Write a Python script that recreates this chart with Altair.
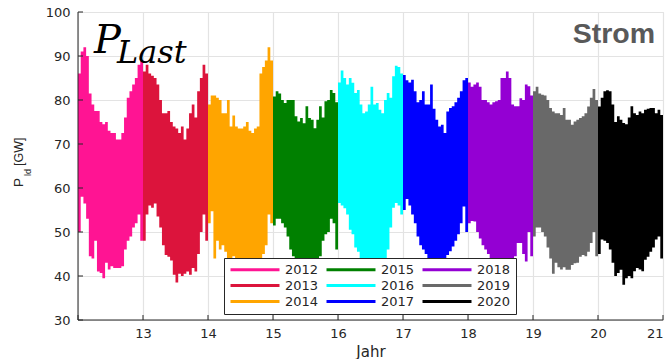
import altair as alt
import pandas as pd

# Yearly electrical load (GW), upper and lower envelope in 24 half-month bins per year
years = ["2012", "2013", "2014", "2015", "2016", "2017", "2018", "2019", "2020"]
year_colors = ["#FF1493", "#DC143C", "#FFA500", "#008000", "#00FFFF",
               "#0000FF", "#9400D3", "#696969", "#000000"]

hi_2012 = [86, 91, 92, 90, 81.5, 79, 77.5, 77.5, 75, 74.5, 75, 73,
           72.5, 72.5, 71, 71, 72.5, 76, 80.5, 82, 83.5, 85, 88, 89]
lo_2012 = [50, 58, 56.5, 53, 44.5, 44, 48, 41, 40.7, 39.5, 43, 41.5,
           42.2, 41.8, 41.8, 41.8, 42.2, 46, 48, 49, 51, 52, 54, 48]

hi_2013 = [86.5, 88, 86, 85.5, 85, 83.5, 80, 77, 77, 77.5, 75, 74,
           73.5, 72.5, 74, 71, 73.5, 77, 79, 76, 82, 85, 88, 86]
lo_2013 = [48, 54, 56, 55.5, 56.5, 53.5, 51, 47, 44.8, 44.4, 43.5, 40.3,
           38.5, 40.5, 40, 40.5, 41, 40.3, 41.8, 41, 45, 50, 54, 48]

hi_2014 = [79, 81, 81, 80.5, 80, 77, 77, 80, 74, 76.5, 74, 73.5,
           73.5, 74, 75, 73, 72.5, 73.5, 74, 86, 87.5, 89, 92, 89]
lo_2014 = [52, 54.7, 44, 48, 46, 47, 45.5, 44, 43, 44.5, 43, 42.5,
           42, 42, 42, 42.5, 43, 43, 43.5, 44, 45, 47, 54, 52]

hi_2015 = [80.8, 82, 81.5, 80, 79.3, 80, 80, 80, 76.3, 75.1, 75.9, 74.7,
           78.6, 75.9, 75.5, 73.6, 75.5, 78.6, 76, 79.7, 80, 82.3, 81.6, 79.5]
lo_2015 = [51.5, 53, 53, 52, 51, 49, 46, 44.5, 43, 42.5, 42, 42,
           42, 42, 42, 42.5, 43, 44.5, 48, 49.5, 50, 53, 52, 46]

hi_2016 = [84, 86.7, 85, 83.5, 85, 83.9, 81.6, 82.3, 79, 77, 77.4, 79,
           83, 79, 79.3, 77.8, 77, 80, 81.6, 80.5, 85.4, 87.8, 87.5, 86]
lo_2016 = [56.6, 56, 55.4, 54, 50.5, 49.5, 46.5, 45.5, 44, 43, 42.5, 42,
           42, 42, 42, 42.5, 43, 44, 46, 51, 55.5, 56.6, 56, 54]

hi_2017 = [85.7, 84.5, 84, 84.6, 82, 79.5, 80, 82, 79, 79, 83.5, 78,
           75.5, 74, 74.4, 72.5, 77.4, 78.2, 78.6, 79.5, 80.5, 82, 84.5, 85]
lo_2017 = [55, 57.5, 56, 54, 52, 49, 47, 46, 45, 43.5, 43, 42.5,
           42.5, 42.5, 43, 44, 44.8, 45.6, 46.7, 48, 49.5, 52, 55.8, 50]

hi_2018 = [84, 83, 83.5, 84, 83, 80, 80, 79.5, 79, 79.5, 79.7, 80,
           85, 85, 86.5, 85, 79, 78.6, 78.6, 80.4, 80, 83.5, 83.1, 81]
lo_2018 = [52, 52.5, 52.4, 50, 48.5, 47, 46, 45, 44, 43.5, 43, 43,
           43, 43.5, 43.7, 43.5, 44, 44.5, 47.5, 47.5, 45, 43.3, 50, 44.5]

hi_2019 = [82, 83, 81.5, 81.2, 81, 80, 78.2, 77.4, 77, 77, 76.6, 78.2,
           75.5, 75.5, 74.4, 75.1, 75.5, 75.9, 76.3, 77, 78.5, 80.5, 82.5, 80]
lo_2019 = [49, 51, 51, 50, 49, 46.5, 44, 40.5, 43, 42, 41.5, 42,
           41.4, 41.4, 42.5, 42.9, 43, 44.4, 44.8, 44.5, 45.5, 47.5, 50, 44.5]

hi_2020 = [78.5, 80.5, 82, 82.2, 82, 79, 75, 76.3, 75.5, 74.8, 74.5, 76,
           78.6, 77, 76.6, 77.4, 77, 77.8, 78, 78.2, 78.2, 77, 77.8, 76.6]
lo_2020 = [45, 48.3, 48, 47.5, 46, 43, 40, 40.7, 41.4, 38, 39.5, 40,
           39.5, 41.1, 41.8, 41.5, 41.1, 43.7, 44.4, 45.5, 46.5, 48.3, 49, 44]

highs = [hi_2012, hi_2013, hi_2014, hi_2015, hi_2016, hi_2017, hi_2018, hi_2019, hi_2020]
lows = [lo_2012, lo_2013, lo_2014, lo_2015, lo_2016, lo_2017, lo_2018, lo_2019, lo_2020]

x_ticks = [12, 13, 14, 15, 16, 17, 18, 19, 20, 21]
y_ticks = [30, 40, 50, 60, 70, 80, 90, 100]

rows = []
for i, (yr, hi, lo) in enumerate(zip(years, highs, lows)):
    n = len(hi)
    start = 12 + i
    for k in range(n):
        rows.append({"t": start + k / n, "hi": hi[k], "lo": lo[k], "Jahrgang": yr})
    rows.append({"t": start + 1, "hi": hi[-1], "lo": lo[-1], "Jahrgang": yr})
df = pd.DataFrame(rows)

# one point per year: feeds the line-style legend, draws no visible line
key_df = pd.DataFrame({"t": [12 + i + 0.5 for i in range(len(years))],
                       "hi": [60.0] * len(years), "Jahrgang": years})

W, H = 585, 308
TXT = "#262626"
GRID = "#e3e3e3"

x_scale = alt.Scale(domain=[12, 21], nice=False, zero=False)
y_scale = alt.Scale(domain=[30, 100], nice=False, zero=False)
c_scale = alt.Scale(domain=years, range=year_colors)

area = alt.Chart(df).mark_area(interpolate="step-after", opacity=1).encode(
    x=alt.X("t:Q", scale=x_scale,
            axis=alt.Axis(values=x_ticks, format="d", title="Jahr", grid=True,
                          gridColor=GRID, gridWidth=1.2, domain=False, ticks=False,
                          labelExpr="datum.value == 12 ? '' : datum.label",
                          labelFont="DejaVu Sans", labelFontSize=13, labelColor=TXT,
                          labelPadding=7, titleFont="DejaVu Sans", titleFontSize=15,
                          titleFontWeight="normal", titleColor=TXT, titlePadding=4)),
    y=alt.Y("hi:Q", scale=y_scale,
            axis=alt.Axis(values=y_ticks, title=None, grid=True, gridColor=GRID,
                          gridWidth=1.2, domain=False, ticks=False,
                          labelFont="DejaVu Sans", labelFontSize=13, labelColor=TXT,
                          labelPadding=8)),
    y2="lo:Q",
    color=alt.Color("Jahrgang:N", scale=c_scale, legend=None),
)

# three columns, filled top to bottom: 2012-2014 | 2015-2017 | 2018-2020
key = alt.Chart(key_df).mark_line(strokeWidth=3).encode(
    x=alt.X("t:Q", scale=x_scale),
    y=alt.Y("hi:Q", scale=y_scale),
    color=alt.Color(
        "Jahrgang:N", scale=c_scale,
        legend=alt.Legend(
            title=None, orient="none", legendX=146, legendY=246, columns=3,
            symbolType="stroke", symbolSize=2400, symbolStrokeWidth=3,
            clipHeight=13, rowPadding=2, columnPadding=6, labelOffset=4,
            padding=5, fillColor="white", strokeColor=TXT,
            labelFont="DejaVu Sans", labelFontSize=13, labelColor=TXT,
            symbolOpacity=1,
        ),
    ),
)

# axis lines with inward ticks
xt = pd.DataFrame({"v": x_ticks})
yt = pd.DataFrame({"v": y_ticks})
x_tick_marks = alt.Chart(xt).mark_rule(color=TXT, strokeWidth=1).encode(
    x=alt.X("v:Q", scale=x_scale), y=alt.value(H), y2=alt.value(H - 5))
y_tick_marks = alt.Chart(yt).mark_rule(color=TXT, strokeWidth=1).encode(
    y=alt.Y("v:Q", scale=y_scale), x=alt.value(0), x2=alt.value(5))
axis_left = alt.Chart(xt.head(1)).mark_rule(color=TXT, strokeWidth=1).encode(
    x=alt.value(0), y=alt.value(0), y2=alt.value(H))
axis_bottom = alt.Chart(xt.head(1)).mark_rule(color=TXT, strokeWidth=1).encode(
    x=alt.value(0), x2=alt.value(W), y=alt.value(H))

one = pd.DataFrame({"s": [""]})

# y axis title P_ld [GW]
ylab_p = alt.Chart(one).mark_text(text="P", angle=270, align="left", baseline="alphabetic",
                                  font="Liberation Sans", fontSize=13.5, color=TXT).encode(
    x=alt.value(-55), y=alt.value(175))
ylab_sub = alt.Chart(one).mark_text(text="ld", angle=270, align="left", baseline="alphabetic",
                                    font="Liberation Sans", fontSize=9, color=TXT).encode(
    x=alt.value(-47), y=alt.value(164))
ylab_unit = alt.Chart(one).mark_text(text="[GW]", angle=270, align="left", baseline="alphabetic",
                                     font="Liberation Sans", fontSize=12.5, color=TXT).encode(
    x=alt.value(-55), y=alt.value(154))

# P_Last heading and "Strom" tag
head_p = alt.Chart(one).mark_text(text="P", align="left", baseline="alphabetic",
                                  font="DejaVu Serif", fontStyle="italic", fontSize=40,
                                  color="black").encode(x=alt.value(16), y=alt.value(41))
head_sub = alt.Chart(one).mark_text(text="Last", align="left", baseline="alphabetic",
                                    font="DejaVu Serif", fontStyle="italic", fontSize=32,
                                    color="black").encode(x=alt.value(39), y=alt.value(51))
strom = alt.Chart(one).mark_text(text="Strom", align="right", baseline="alphabetic",
                                 font="Liberation Sans", fontWeight="bold", fontSize=28.5,
                                 color="#595959").encode(x=alt.value(577), y=alt.value(31))

chart = alt.layer(
    area, key, x_tick_marks, y_tick_marks, axis_left, axis_bottom,
    ylab_p, ylab_sub, ylab_unit, head_p, head_sub, strom,
).resolve_legend(color="independent").properties(
    width=W, height=H,
    autosize=alt.AutoSizeParams(type="none"),
    padding={"left": 78, "top": 12, "right": 8, "bottom": 39},
).configure_view(stroke=None).configure(background="white")

chart.save("out.html", embed_options={"renderer": "svg", "actions": False})
